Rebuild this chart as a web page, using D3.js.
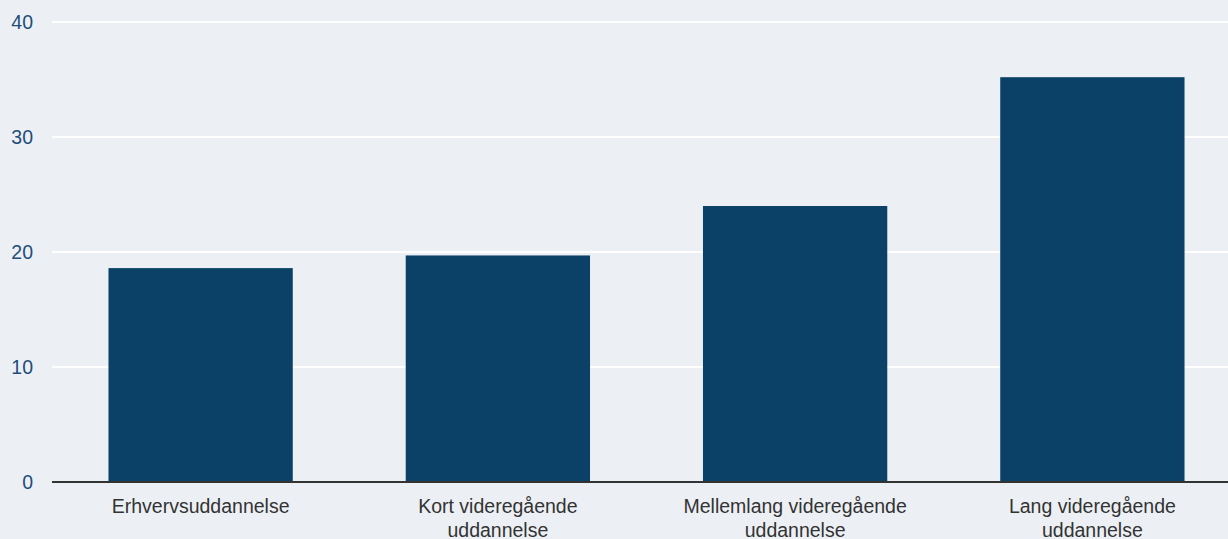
<!DOCTYPE html>
<html>
<head>
<meta charset="utf-8">
<script src="https://cdn.jsdelivr.net/npm/d3@7"></script>
<style>
  html, body { margin: 0; padding: 0; background: #ecf0f5; }
  svg { display: block; }
  text { font-family: "Liberation Sans", Arial, sans-serif; }
</style>
</head>
<body>
<svg id="chart" width="1228" height="539"></svg>
<script>
const categories = [
  ["Erhvervsuddannelse"],
  ["Kort videregående", "uddannelse"],
  ["Mellemlang videregående", "uddannelse"],
  ["Lang videregående", "uddannelse"]
];
const values = [18.6, 19.7, 24.0, 35.2];
const yTicks = [0, 10, 20, 30, 40];

const W = 1228, H = 539;
const svg = d3.select("#chart");
svg.append("rect").attr("width", W).attr("height", H).attr("fill", "#ecf0f5");

const x = d3.scaleBand()
  .domain(d3.range(categories.length))
  .range([52, 1241])
  .paddingInner(0.38)
  .paddingOuter(0.19);

const y = d3.scaleLinear().domain([0, 40]).range([482, 22]);

// gridlines
svg.append("g").selectAll("line")
  .data(yTicks.filter(d => d > 0))
  .join("line")
  .attr("x1", 52).attr("x2", W)
  .attr("y1", d => y(d)).attr("y2", d => y(d))
  .attr("stroke", "#ffffff").attr("stroke-width", 2);

// y labels
svg.append("g").selectAll("text")
  .data(yTicks)
  .join("text")
  .attr("x", 33).attr("y", d => y(d))
  .attr("dy", "0.35em")
  .attr("text-anchor", "end")
  .attr("font-size", "19.5px")
  .attr("fill", "#1f4e79")
  .text(d => d);

// bars
svg.append("g").selectAll("rect")
  .data(values)
  .join("rect")
  .attr("x", (d, i) => x(i))
  .attr("width", x.bandwidth())
  .attr("y", d => y(d))
  .attr("height", d => y(0) - y(d))
  .attr("fill", "#0b4166");

// baseline
svg.append("line")
  .attr("x1", 52).attr("x2", W)
  .attr("y1", y(0)).attr("y2", y(0))
  .attr("stroke", "#333333").attr("stroke-width", 2);

// x labels
const lab = svg.append("g").selectAll("text")
  .data(categories)
  .join("text")
  .attr("x", (d, i) => x(i) + x.bandwidth() / 2)
  .attr("y", 512.5)
  .attr("text-anchor", "middle")
  .attr("font-size", "19.5px")
  .attr("fill", "#333333");
lab.selectAll("tspan")
  .data(d => d)
  .join("tspan")
  .attr("x", function() { return d3.select(this.parentNode).attr("x"); })
  .attr("dy", (d, i) => i === 0 ? 0 : 24)
  .text(d => d);
</script>
</body>
</html>
